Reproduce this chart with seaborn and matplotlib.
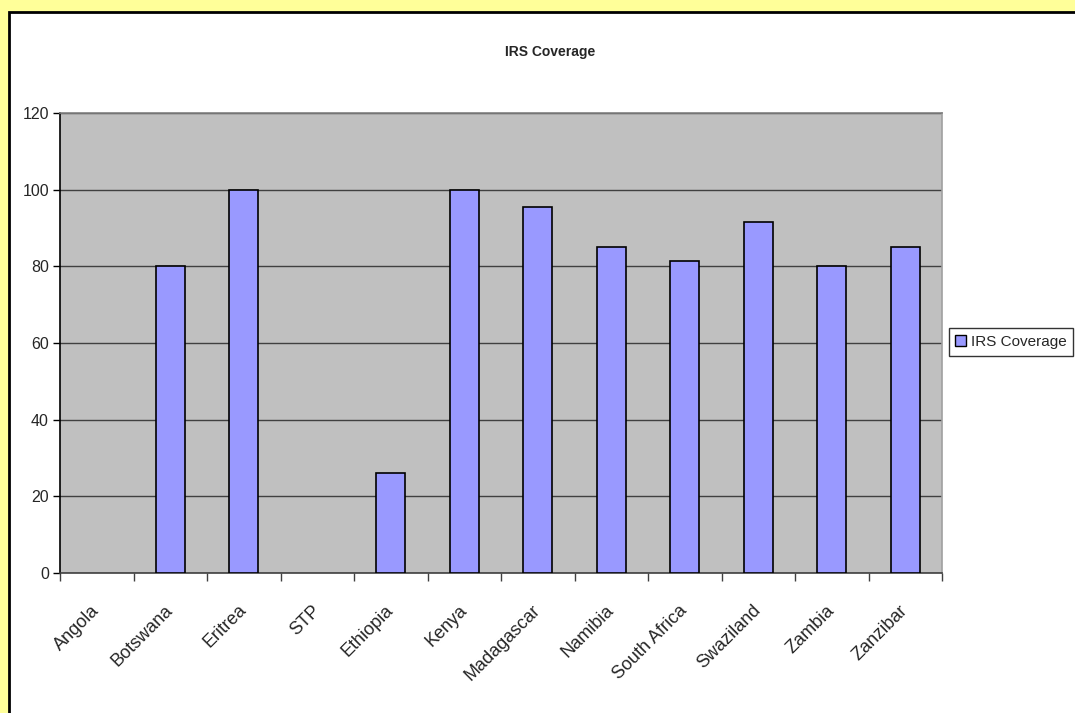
import matplotlib
matplotlib.use("Agg")
import matplotlib.pyplot as plt
from matplotlib.patches import Rectangle, Patch
import seaborn as sns
import pandas as pd

countries = ["Angola", "Botswana", "Eritrea", "STP", "Ethiopia", "Kenya",
             "Madagascar", "Namibia", "South Africa", "Swaziland", "Zambia", "Zanzibar"]
coverage = [0, 80, 100, 0, 26, 100, 95.5, 85, 81.5, 91.5, 80, 85]
y_ticks = [0, 20, 40, 60, 80, 100, 120]
series_name = "IRS Coverage"

sns.set_theme(style="white")
plt.rcParams["font.family"] = ["Liberation Sans", "DejaVu Sans"]

df = pd.DataFrame({"country": countries, "value": coverage})

fig = plt.figure(figsize=(10.75, 7.13), dpi=100, facecolor="#FFFF99")
# white chart area with a black frame, behind the plot
fig.patches.append(Rectangle((9 / 1075, -0.1), 1.2, 1 - 12 / 713 + 0.1,
                             transform=fig.transFigure, facecolor="white",
                             edgecolor="black", linewidth=2, zorder=-5))

ax = fig.add_axes([60 / 1075, 1 - 573 / 713, 882 / 1075, 460 / 713])
ax.set_facecolor("#C0C0C0")

sns.barplot(data=df, x="country", y="value", color="#9999FF", width=0.4,
            edgecolor="black", linewidth=1.2, saturation=1, ax=ax, zorder=3)
for p in ax.patches:
    if p.get_height() == 0:
        p.set_linewidth(0)

ax.set_ylim(0, 120)
ax.set_xlim(-0.5, len(countries) - 0.5)
ax.set_yticks(y_ticks)
ax.yaxis.grid(True, color="#404040", linewidth=1)
ax.set_axisbelow(True)
ax.set_xlabel("")
ax.set_ylabel("")

# ticks between categories, labels under each category
ax.set_xticks([i + 0.5 for i in range(-1, len(countries))], minor=False)
ax.set_xticklabels([""] * (len(countries) + 1))
ax.set_xticks(range(len(countries)), minor=True)
ax.set_xticklabels(countries, minor=True, rotation=45, ha="right",
                   va="center", rotation_mode="anchor", fontsize=13)
ax.tick_params(axis="x", which="major", direction="out", length=6, width=1,
               color="#404040", bottom=True)
ax.tick_params(axis="x", which="minor", length=0, pad=25, bottom=True)
ax.tick_params(axis="y", direction="out", length=5, width=1, color="black",
               left=True, labelsize=11.5, pad=3)

for side in ["top", "right", "bottom", "left"]:
    ax.spines[side].set_visible(True)
ax.spines["left"].set_color("black")
ax.spines["bottom"].set_color("#404040")
ax.spines["top"].set_color("#808080")
ax.spines["right"].set_color("#A0A0A0")
for s in ax.spines.values():
    s.set_linewidth(1.2)

fig.text(550 / 1075, 1 - 52 / 713, series_name, ha="center", va="center",
         fontsize=10, fontweight="bold")

handle = Patch(facecolor="#9999FF", edgecolor="black", linewidth=1)
leg = fig.legend([handle], [series_name], loc="center",
                 bbox_to_anchor=(1011 / 1075, 1 - 342 / 713), fontsize=11,
                 frameon=True, fancybox=False, handlelength=0.7,
                 handleheight=0.7, handletextpad=0.3, borderpad=0.45,
                 borderaxespad=0)
leg.get_frame().set_edgecolor("black")
leg.get_frame().set_linewidth(1)

fig.savefig("out.png", dpi=100, facecolor=fig.get_facecolor())
